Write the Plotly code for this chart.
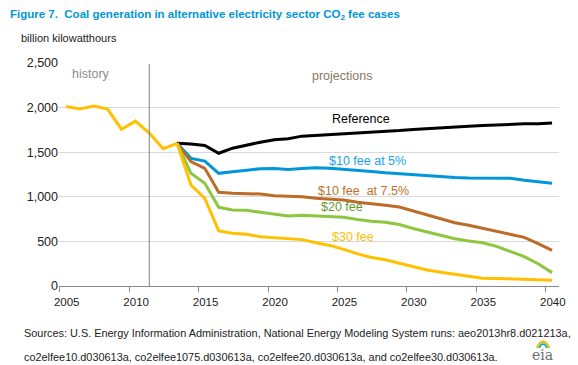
import plotly.graph_objects as go

# ---- data ----
hist_years = list(range(2005, 2014))
history = [2013, 1985, 2018, 1983, 1758, 1848, 1715, 1540, 1600]

proj_years = list(range(2013, 2041))
reference = [1600, 1592, 1575, 1488, 1545, 1580, 1612, 1640, 1652, 1680, 1688, 1697, 1705, 1712,
             1720, 1730, 1742, 1755, 1762, 1770, 1780, 1790, 1800, 1808, 1815, 1818, 1818, 1828]
fee10_5 = [1600, 1431, 1401, 1263, 1282, 1301, 1315, 1318, 1307, 1318, 1325, 1320, 1310, 1300,
           1285, 1270, 1258, 1248, 1235, 1220, 1215, 1210, 1208, 1208, 1207, 1185, 1170, 1152]
fee10_75 = [1600, 1394, 1319, 1050, 1039, 1039, 1031, 1013, 1009, 1001, 985, 978, 965, 940,
            925, 905, 885, 840, 795, 750, 710, 680, 645, 615, 580, 545, 475, 400]
fee20 = [1600, 1263, 1151, 882, 852, 849, 826, 807, 785, 792, 785, 780, 770, 745,
         725, 715, 690, 645, 605, 565, 530, 505, 485, 445, 390, 330, 250, 150]
fee30 = [1600, 1132, 983, 617, 591, 580, 553, 542, 527, 520, 485, 455, 410, 360,
         320, 295, 255, 215, 180, 155, 130, 105, 88, 85, 78, 72, 68, 65]

tick_years = [2005, 2010, 2015, 2020, 2025, 2030, 2035, 2040]
tick_labels = [str(y) for y in tick_years]
y_ticks = [0, 500, 1000, 1500, 2000, 2500]

series = [
    ("Reference", reference, "#000000", "#000000", 2024.04, 1872),
    ("$10 fee at 5%", fee10_5, "#0096D7", "#1AA3E8", 2023.8, 1401),
    ("$10 fee&nbsp; at 7.5%", fee10_75, "#BD6B28", "#C0702A", 2022.97, 1065),
    ("$20 fee", fee20, "#8DC63F", "#5E9C2E", 2023.25, 889),
    ("$30 fee", fee30, "#FFC000", "#FFC000", 2024.04, 549),
]

W, H = 578, 365
L, R, T, B = 59, 16, 63, 79


def px(x):
    return (x - L) / (W - L - R)


def py(y):
    return (H - B - y) / (H - T - B)


fig = go.Figure()
for name, vals, col, tcol, ax, ay in series:
    fig.add_trace(go.Scatter(x=proj_years, y=vals, mode="lines", name=name,
                             line=dict(color=col, width=3), hoverinfo="skip"))
fig.add_trace(go.Scatter(x=hist_years, y=history, mode="lines", name="history",
                         line=dict(color="#FFC000", width=3), hoverinfo="skip"))

for name, vals, col, tcol, ax, ay in series:
    fig.add_annotation(x=ax, y=ay, xref="x", yref="y", text=name,
                       showarrow=False, xanchor="left", yanchor="middle",
                       font=dict(family="Arial, Liberation Sans", size=12.5, color=tcol))

fig.add_annotation(x=2005.29, y=2377, xref="x", yref="y", text="history", showarrow=False,
                   xanchor="left", yanchor="middle",
                   font=dict(family="Arial, Liberation Sans", size=12.5, color="#8c8c8c"))
fig.add_annotation(x=2022.6, y=2358, xref="x", yref="y", text="projections", showarrow=False,
                   xanchor="left", yanchor="middle",
                   font=dict(family="Arial, Liberation Sans", size=12.5, color="#8a7866"))

# divider line between history and projections
fig.add_shape(type="line", x0=2011, x1=2011, y0=0, y1=2490, xref="x", yref="y",
              line=dict(color="#808080", width=1))

fig.update_layout(
    width=W, height=H,
    margin=dict(l=L, r=R, t=T, b=B),
    paper_bgcolor="white", plot_bgcolor="white",
    showlegend=False,
    title=dict(text="<b>Figure 7.  Coal generation in alternative electricity sector CO<sub>2</sub> fee cases</b>",
               x=10 / W, xanchor="left", y=1 - 14 / H, yanchor="middle",
               font=dict(family="Liberation Sans, Arial", size=11.5, color="#0096D7")),
)

fig.add_annotation(x=px(19), y=py(38), xref="paper", yref="paper", text="billion kilowatthours",
                   showarrow=False, xanchor="left", yanchor="middle",
                   font=dict(family="Arial, Liberation Sans", size=11, color="#222222"))

fig.add_annotation(x=px(22), y=py(333), xref="paper", yref="paper",
                   text="Sources: U.S. Energy Information Administration, National Energy Modeling System runs: aeo2013hr8.d021213a,",
                   showarrow=False, xanchor="left", yanchor="middle",
                   font=dict(family="Arial, Liberation Sans", size=10.9, color="#222222"))
fig.add_annotation(x=px(22), y=py(357), xref="paper", yref="paper",
                   text="co2elfee10.d030613a, co2elfee1075.d030613a, co2elfee20.d030613a, and co2elfee30.d030613a.",
                   showarrow=False, xanchor="left", yanchor="middle",
                   font=dict(family="Arial, Liberation Sans", size=10.9, color="#222222"))
# eia logo
fig.add_annotation(x=px(545), y=py(355), xref="paper", yref="paper", text="eia",
                   showarrow=False, xanchor="center", yanchor="middle",
                   font=dict(family="DejaVu Serif, serif", size=14, color="#6d6e71"))
for i, c in enumerate(["#FFC000", "#8DC63F", "#0096D7"]):
    r = 7 - i * 1.6
    cx, cy = 546, 348
    fig.add_shape(type="path", xref="paper", yref="paper",
                  path=f"M {px(cx - r)} {py(cy)} Q {px(cx)} {py(cy - 2 * r)} {px(cx + r)} {py(cy)}",
                  line=dict(color=c, width=1.3))

fig.update_xaxes(range=[2004.5, 2040.5],
                 tickvals=[y - 0.45 for y in tick_years], ticktext=tick_labels,
                 ticklabelshift=7,
                 ticks="outside", ticklen=5, tickcolor="#888888",
                 showline=True, linecolor="#888888", linewidth=1,
                 showgrid=False, zeroline=False,
                 tickfont=dict(family="Arial, Liberation Sans", size=11.5, color="#222222"))
fig.update_yaxes(range=[0, 2500], tickvals=y_ticks, tickformat=",",
                 showgrid=True, gridcolor="#d9d9d9", gridwidth=1,
                 zeroline=False, showline=False, ticks="",
                 tickfont=dict(family="Arial, Liberation Sans", size=12.5, color="#222222"))

fig.write_html("out.html", config={"displayModeBar": False},
               post_script="document.body.style.margin='0';document.body.style.padding='0';")
